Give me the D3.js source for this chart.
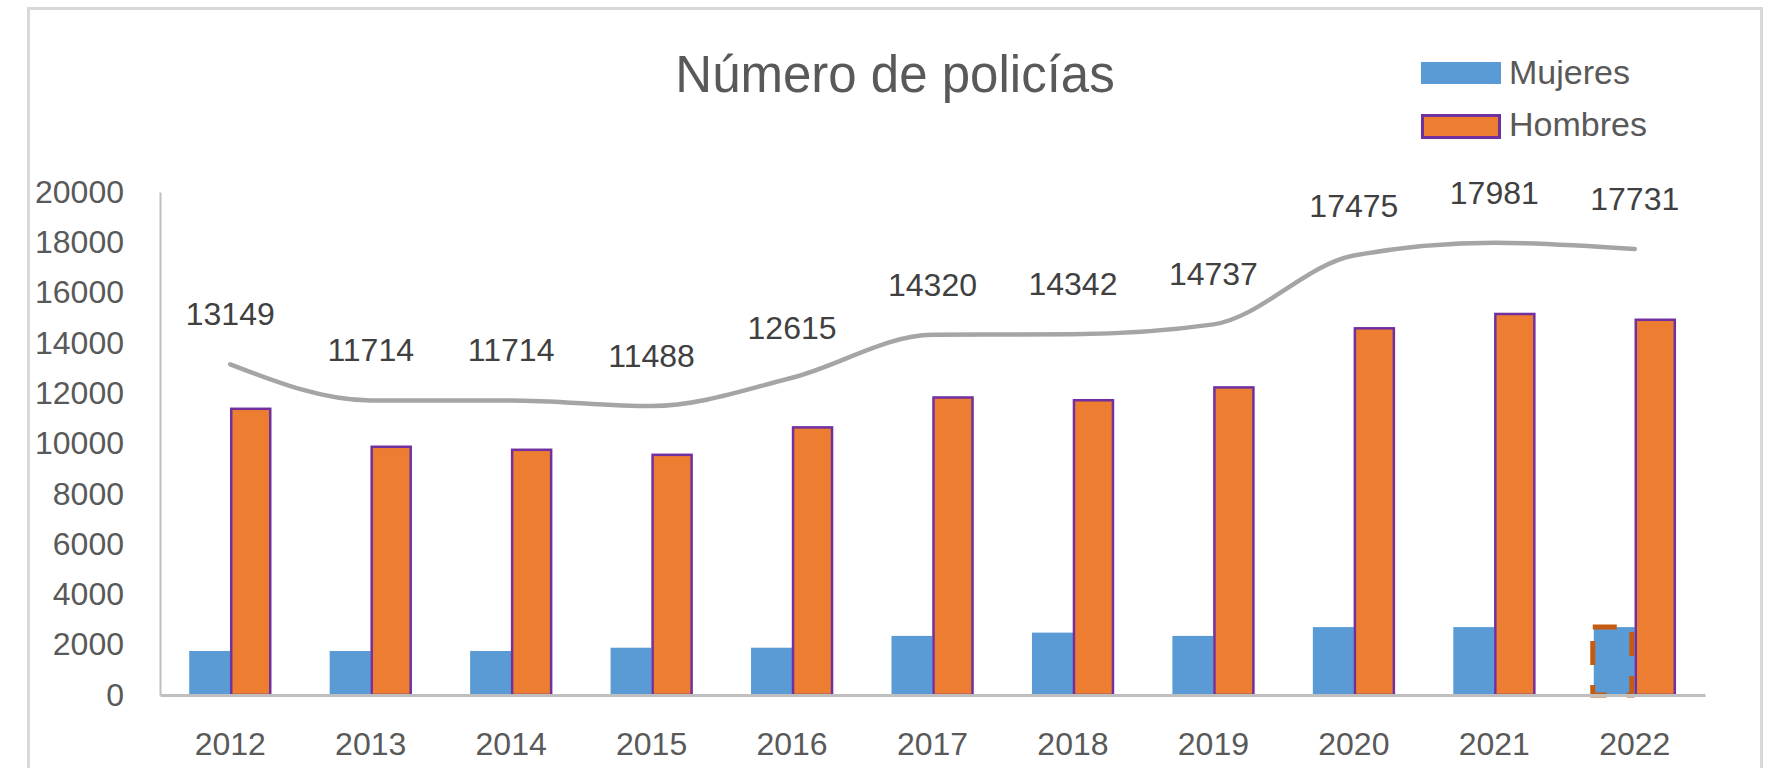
<!DOCTYPE html>
<html>
<head>
<meta charset="utf-8">
<script src="https://cdn.jsdelivr.net/npm/d3@7"></script>
<style>
	html, body { margin: 0; padding: 0; background: #fff; }
	svg { display: block; font-family: "Liberation Sans", Arial, sans-serif; }
</style>
</head>
<body>
<div id="chart"></div>
<script>
/*
  Número de policías
*/
var years = ['2012', '2013', '2014', '2015', '2016', '2017', '2018', '2019', '2020', '2021', '2022'];
var mujeres = [1750, 1750, 1750, 1880, 1880, 2350, 2480, 2350, 2700, 2700, 2700];
var hombres = [11380, 9870, 9750, 9550, 10640, 11830, 11720, 12230, 14580, 15150, 14920];
var totales = [13149, 11714, 11714, 11488, 12615, 14320, 14342, 14737, 17475, 17981, 17731];
var yTicks = [0, 2000, 4000, 6000, 8000, 10000, 12000, 14000, 16000, 18000, 20000];
var seriesNames = ['Mujeres', 'Hombres'];
var marked = '2022'; // the bar with the dashed selection outline

;(function() {
	'use strict';

	var width = 1768;
	var height = 768;
	var left = 160, right = 1705, top = 192, bottom = 695;

	var svg = d3.select('#chart').append('svg')
		.attr('width', width)
		.attr('height', height);

	// outer frame
	svg.append('rect')
		.attr('x', 28.5)
		.attr('y', 8.5)
		.attr('width', 1733)
		.attr('height', 780)
		.attr('fill', 'none')
		.attr('stroke', '#d9d9d9')
		.attr('stroke-width', 3);

	var x = d3.scaleBand()
		.domain(years)
		.range([left, right])
		.paddingInner(0.416)
		.paddingOuter(0.208);

	var xSub = d3.scaleBand()
		.domain(seriesNames)
		.range([0, x.bandwidth()]);

	var y = d3.scaleLinear()
		.domain([0, 20000])
		.range([bottom, top]);

	var rows = years.map(function(year, i) {
		return {year: year, Mujeres: mujeres[i], Hombres: hombres[i], total: totales[i]};
	});

	// title
	svg.append('text')
		.attr('x', 895)
		.attr('y', 92)
		.attr('text-anchor', 'middle')
		.attr('fill', '#595959')
		.attr('font-size', 51)
		.text('Número de policías');

	// axes
	var yAxis = svg.append('g')
		.attr('transform', 'translate(' + left + ',0)')
		.call(d3.axisLeft(y).tickValues(yTicks).tickFormat(d3.format('d')).tickSize(0).tickPadding(36));
	yAxis.select('.domain').attr('stroke', '#bfbfbf').attr('stroke-width', 2);
	yAxis.selectAll('text')
		.attr('fill', '#595959')
		.attr('font-size', 32)
		.attr('font-family', '"Liberation Sans", Arial, sans-serif');

	var groups = svg.append('g')
		.selectAll('.year')
		.data(rows)
		.enter().append('g')
		.attr('class', 'year')
		.attr('transform', function(d) {
			return 'translate(' + x(d.year) + ',0)';
		});

	groups.append('rect')
		.attr('x', xSub('Mujeres'))
		.attr('y', function(d) { return y(d.Mujeres); })
		.attr('width', xSub.bandwidth())
		.attr('height', function(d) { return y(0) - y(d.Mujeres); })
		.attr('fill', '#5b9bd5');

	// dashed outline left on the last blue bar
	groups.filter(function(d) { return d.year === marked; })
		.append('rect')
		.attr('x', xSub('Mujeres') - 1)
		.attr('y', function(d) { return y(d.Mujeres); })
		.attr('width', xSub.bandwidth() - 2)
		.attr('height', function(d) { return y(0) - y(d.Mujeres); })
		.attr('fill', 'none')
		.attr('stroke', '#c55a11')
		.attr('stroke-width', 5)
		.attr('stroke-dasharray', '24 20');

	groups.append('rect')
		.attr('x', xSub('Hombres') + 1)
		.attr('y', function(d) { return y(d.Hombres); })
		.attr('width', xSub.bandwidth() - 2)
		.attr('height', function(d) { return y(0) - y(d.Hombres); })
		.attr('fill', '#ed7d31')
		.attr('stroke', '#7030a0')
		.attr('stroke-width', 2.5);

	var xAxis = svg.append('g')
		.attr('transform', 'translate(0,' + bottom + ')')
		.call(d3.axisBottom(x).tickSize(0).tickPadding(37));
	xAxis.select('.domain').attr('stroke', '#bfbfbf').attr('stroke-width', 3);
	xAxis.selectAll('text')
		.attr('fill', '#595959')
		.attr('font-size', 32)
		.attr('font-family', '"Liberation Sans", Arial, sans-serif');

	// total line
	var line = d3.line()
		.curve(d3.curveMonotoneX)
		.x(function(d) { return x(d.year) + x.bandwidth() / 2; })
		.y(function(d) { return y(d.total); });

	svg.append('path')
		.datum(rows)
		.attr('d', line)
		.attr('fill', 'none')
		.attr('stroke', '#a5a5a5')
		.attr('stroke-width', 4.5)
		.attr('stroke-linecap', 'round');

	svg.append('g')
		.selectAll('text')
		.data(rows)
		.enter().append('text')
		.attr('x', function(d) { return x(d.year) + x.bandwidth() / 2; })
		.attr('y', function(d) { return y(d.total) - 39; })
		.attr('text-anchor', 'middle')
		.attr('fill', '#404040')
		.attr('font-size', 32)
		.text(function(d) { return d.total; });

	// legend
	var legend = svg.append('g')
		.selectAll('.legend')
		.data(seriesNames)
		.enter().append('g')
		.attr('class', 'legend')
		.attr('transform', function(d, i) {
			return 'translate(1421,' + (62 + i * 52) + ')';
		});

	legend.append('rect')
		.attr('x', function(d, i) { return i ? 1.5 : 0; })
		.attr('y', function(d, i) { return i ? 1.5 : 0; })
		.attr('width', function(d, i) { return i ? 77 : 80; })
		.attr('height', 22)
		.attr('fill', function(d, i) { return i ? '#ed7d31' : '#5b9bd5'; })
		.attr('stroke', function(d, i) { return i ? '#7030a0' : 'none'; })
		.attr('stroke-width', 3);

	legend.append('text')
		.attr('x', 88)
		.attr('y', 22)
		.attr('fill', '#595959')
		.attr('font-size', 34)
		.text(function(d) { return d; });
}());
</script>
</body>
</html>
